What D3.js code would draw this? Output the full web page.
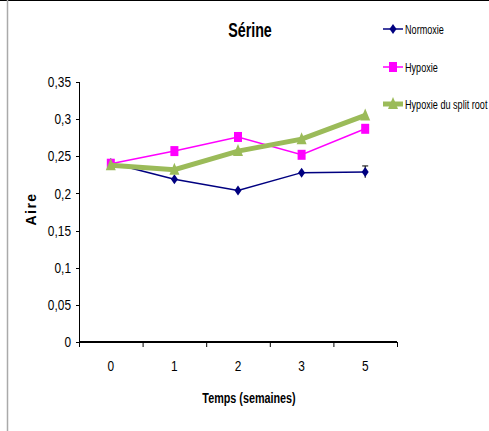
<!DOCTYPE html>
<html><head><meta charset="utf-8">
<script src="https://cdn.jsdelivr.net/npm/d3@7"></script>
<style>
html,body{margin:0;padding:0;background:#fff;}
svg{display:block;font-family:"Liberation Sans",Arial,sans-serif;}
</style></head>
<body>
<svg id="c" width="489" height="431"></svg>
<script>
const categories = ["0","1","2","3","5"];
const normoxie = [0.241, 0.219, 0.204, 0.228, 0.229];
const normoxieErr = [0, 0, 0, 0, 0.008];
const hypoxie = [0.240, 0.257, 0.276, 0.252, 0.287];
const splitRoot = [0.238, 0.232, 0.257, 0.273, 0.305];
const yTicks = [0,0.05,0.1,0.15,0.2,0.25,0.3,0.35];
const seriesNames = ["Normoxie","Hypoxie","Hypoxie du split root"];
const colors = ["#000080","#FF00FF","#9BBB59"];

const svg = d3.select("#c");
// frame
svg.append("line").attr("x1",0).attr("x2",489).attr("y1",0.5).attr("y2",0.5).attr("stroke","#000").attr("stroke-width",1);
svg.append("line").attr("x1",7.5).attr("x2",7.5).attr("y1",0).attr("y2",431).attr("stroke","#aaa").attr("stroke-width",1.5);

const x = d3.scaleBand().domain(categories).range([79,397]);
const y = d3.scaleLinear().domain([0,0.35]).range([342,82]);
const fmt = d => String(d).replace(".",",");

// condensed text helper
function ctext(px, py, str, size, anchor, sx, bold){
  const t = svg.append("text")
    .attr("transform",`translate(${px},${py}) scale(${sx},1)`)
    .attr("dy","0.35em").attr("text-anchor",anchor).attr("font-size",size).text(str);
  if(bold) t.attr("font-weight","bold");
  return t;
}

// y axis
svg.append("line").attr("x1",79.5).attr("x2",79.5).attr("y1",y(0.35)).attr("y2",y(0)).attr("stroke","#000");
yTicks.forEach(t=>{
  svg.append("line").attr("x1",76).attr("x2",79.5).attr("y1",Math.round(y(t))+0.5).attr("y2",Math.round(y(t))+0.5).attr("stroke","#000");
  ctext(71, y(t), fmt(t), 14.5, "end", 0.82, false);
});
// x axis
svg.append("line").attr("x1",79).attr("x2",397).attr("y1",342).attr("y2",342).attr("stroke","#000").attr("stroke-width",2);
[...categories.map(c=>x(c)), 397].forEach(px=>{
  svg.append("line").attr("x1",px+0.5).attr("x2",px+0.5).attr("y1",342).attr("y2",347).attr("stroke","#000");
});
categories.forEach(c=>{
  ctext(x(c)+x.bandwidth()/2, 366, c, 14.5, "middle", 0.82, false);
});
// titles
ctext(250, 30, "Sérine", 21, "middle", 0.68, true);
ctext(249, 398, "Temps (semaines)", 15, "middle", 0.72, true);
svg.append("text").attr("transform","translate(31,209) rotate(-90)").attr("dy","0.35em").attr("text-anchor","middle")
  .attr("font-size",14).attr("font-weight","bold").attr("letter-spacing","1.5").text("Aire");

const cx = i => x(categories[i]) + x.bandwidth()/2;
const line = d3.line().x((d,i)=>cx(i)).y(d=>y(d));

function diamond(g, px, py, col){
  g.append("path").attr("d",`M${px},${py-5}L${px+3.5},${py}L${px},${py+5}L${px-3.5},${py}Z`).attr("fill",col);
}
function square(g, px, py, col){
  g.append("rect").attr("x",px-4).attr("y",py-5).attr("width",8).attr("height",10).attr("fill",col);
}
function triangle(g, px, py, col){
  g.append("path").attr("d",`M${px},${py-7}L${px+5},${py+5}L${px-5},${py+5}Z`).attr("fill",col);
}
const markers = [diamond, square, triangle];
const data = [normoxie, hypoxie, splitRoot];
const widths = [1.5, 1.5, 5];

// error bars for normoxie
normoxieErr.forEach((e,i)=>{
  if(e>0){
    svg.append("line").attr("x1",cx(i)).attr("x2",cx(i)).attr("y1",y(normoxie[i]+e)).attr("y2",y(normoxie[i]-e)).attr("stroke","#000");
    svg.append("line").attr("x1",cx(i)-3).attr("x2",cx(i)+3).attr("y1",y(normoxie[i]+e)).attr("y2",y(normoxie[i]+e)).attr("stroke","#000");
  }
});

[0,1,2].forEach(s=>{
  svg.append("path").attr("d",line(data[s])).attr("fill","none").attr("stroke",colors[s]).attr("stroke-width",widths[s]);
  const g = svg.append("g");
  data[s].forEach((v,i)=>markers[s](g,cx(i),y(v),colors[s]));
});

// legend
const legY = [29,67,104];
seriesNames.forEach((n,s)=>{
  svg.append("line").attr("x1",383).attr("x2",403).attr("y1",legY[s]).attr("y2",legY[s]).attr("stroke",colors[s]).attr("stroke-width",s===2?5:1.5);
  markers[s](svg,393,legY[s],colors[s]);
  ctext(405, legY[s], n, 13, "start", 0.7, false);
});
</script>
</body></html>
